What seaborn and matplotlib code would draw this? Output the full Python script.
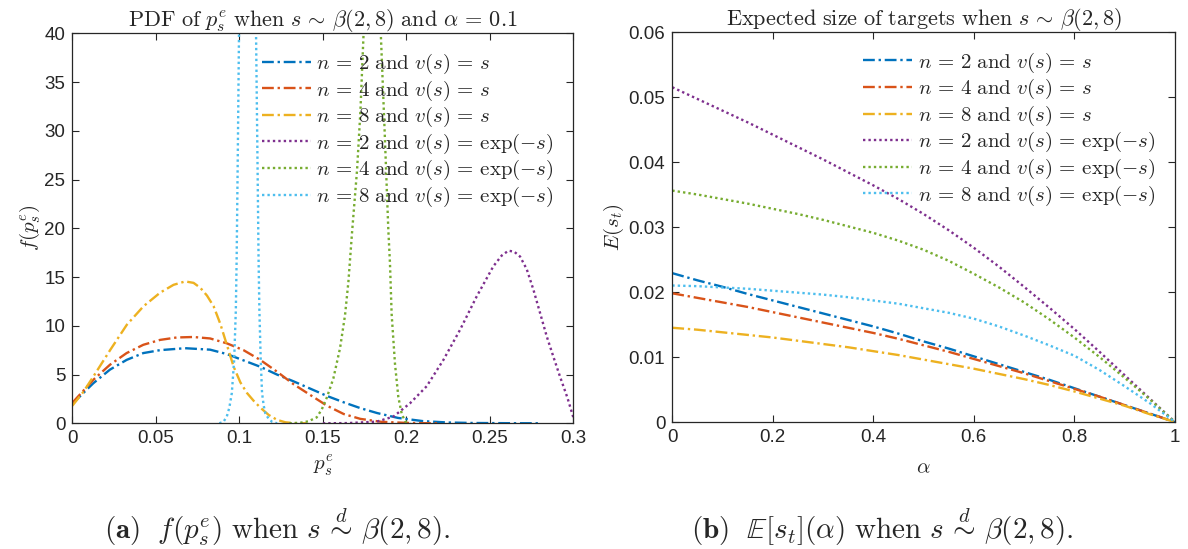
import matplotlib
matplotlib.use("Agg")
import matplotlib.pyplot as plt
import pandas as pd
import seaborn as sns

# ---------------- left panel: PDF of p_s^e, alpha = 0.1 ----------------
pdf_n2_lin_x = [0, 0.0125, 0.0225, 0.0325, 0.0425, 0.0525, 0.0675, 0.0825, 0.0925, 0.1025, 0.1125,
                0.1225, 0.1325, 0.1425, 0.1525, 0.1625, 0.1725, 0.1825, 0.195, 0.21, 0.225, 0.24, 0.26, 0.28]
pdf_n2_lin_y = [2.0, 4.1, 5.5, 6.5, 7.2, 7.5, 7.7, 7.55, 7.1, 6.45, 5.8,
                5.0, 4.3, 3.55, 2.8, 2.15, 1.55, 1.05, 0.55, 0.22, 0.08, 0.03, 0.01, 0.0]

pdf_n4_lin_x = [0, 0.0125, 0.0225, 0.0325, 0.0425, 0.0525, 0.0625, 0.0725, 0.0825, 0.0925, 0.1025,
                0.1125, 0.1225, 0.1325, 0.1425, 0.1525, 0.1625, 0.1725, 0.185, 0.2, 0.21, 0.22]
pdf_n4_lin_y = [2.1, 4.45, 6.0, 7.2, 8.05, 8.55, 8.8, 8.85, 8.7, 8.2, 7.5,
                6.5, 5.3, 4.0, 2.9, 1.8, 0.95, 0.45, 0.15, 0.04, 0.01, 0.0]

pdf_n8_lin_x = [0, 0.0065, 0.0126, 0.0226, 0.0326, 0.0426, 0.0526, 0.0606, 0.0676, 0.0726, 0.0766,
                0.0806, 0.0846, 0.0886, 0.0926, 0.0966, 0.1006, 0.1046, 0.1086, 0.1126, 0.1176,
                0.1226, 0.1276, 0.1326, 0.14]
pdf_n8_lin_y = [1.8, 3.2, 4.8, 7.5, 10.1, 12.0, 13.4, 14.2, 14.55, 14.4, 13.9,
                13.1, 12.0, 10.2, 8.0, 5.8, 4.2, 3.1, 2.3, 1.6, 0.85,
                0.35, 0.1, 0.02, 0.0]

pdf_n2_exp_x = [0.15, 0.165, 0.1823, 0.1922, 0.2022, 0.2122, 0.2222, 0.2322, 0.2421, 0.2521, 0.2571,
                0.2611, 0.2646, 0.2681, 0.2721, 0.2761, 0.2801, 0.2841, 0.2881, 0.292, 0.2965, 0.3]
pdf_n2_exp_y = [0, 0.02, 0.17, 0.68, 2.05, 3.8, 6.5, 9.6, 13.0, 16.1, 17.2,
                17.7, 17.6, 17.1, 15.8, 13.7, 11.3, 8.9, 6.8, 4.8, 2.6, 0.6]

pdf_n4_exp_x = [0.13, 0.1364, 0.1413, 0.1463, 0.1493, 0.1523, 0.1563, 0.1603, 0.1633, 0.1653, 0.1675,
                0.1705, 0.1725, 0.1744, 0.1796, 0.1847, 0.187, 0.1892, 0.1902, 0.1912, 0.1932,
                0.1952, 0.1972, 0.1992, 0.2022]
pdf_n4_exp_y = [0, 0.05, 0.2, 0.6, 1.4, 2.6, 4.6, 7.7, 11.1, 14.5, 19.6,
                26, 32, 40, 65, 40, 30, 19.9, 16.4, 11.2, 6.1,
                2.7, 1.0, 0.2, 0.0]

pdf_n8_exp_x = [0.088, 0.0905, 0.0925, 0.094, 0.0955, 0.0969, 0.0979, 0.0984, 0.0991, 0.0998, 0.1049,
                0.1100, 0.1108, 0.1115, 0.112, 0.1128, 0.1136, 0.1146, 0.1156, 0.1176, 0.1196, 0.1226]
pdf_n8_exp_y = [0, 0.15, 0.7, 1.6, 3.1, 6.5, 11.6, 17, 28, 40, 150,
                40, 28, 17, 11.6, 6.5, 3.1, 1.8, 1.0, 0.45, 0.15, 0.0]

# ---------------- right panel: expected target size vs alpha ----------------
alpha = [0, 0.05, 0.1, 0.15, 0.2, 0.25, 0.3, 0.35, 0.4, 0.45, 0.5,
         0.55, 0.6, 0.65, 0.7, 0.75, 0.8, 0.85, 0.9, 0.95, 1.0]
es_n2_lin = [0.0229, 0.0218, 0.0208, 0.0197, 0.0187, 0.0177, 0.0167, 0.0157, 0.0147, 0.0136, 0.0124,
             0.0113, 0.0101, 0.0089, 0.0077, 0.0065, 0.0052, 0.0039, 0.0026, 0.0013, 0]
es_n4_lin = [0.0198, 0.0191, 0.0184, 0.0177, 0.0169, 0.0161, 0.0153, 0.0145, 0.0137, 0.0128, 0.0118,
             0.0108, 0.0097, 0.0086, 0.0075, 0.0063, 0.0051, 0.0039, 0.0026, 0.0013, 0]
es_n8_lin = [0.0145, 0.0142, 0.0138, 0.0134, 0.0130, 0.0125, 0.0120, 0.0115, 0.0109, 0.0103, 0.0096,
             0.0089, 0.0082, 0.0074, 0.0066, 0.0057, 0.0047, 0.0036, 0.0025, 0.0012, 0]
es_n2_exp = [0.0515, 0.0497, 0.0479, 0.0461, 0.0442, 0.0423, 0.0404, 0.0384, 0.0364, 0.0343, 0.0320,
             0.0295, 0.0268, 0.0239, 0.0208, 0.0176, 0.0143, 0.0108, 0.0072, 0.0036, 0]
es_n4_exp = [0.0356, 0.0350, 0.0343, 0.0336, 0.0328, 0.0320, 0.0311, 0.0301, 0.0291, 0.0279, 0.0265,
             0.0248, 0.0228, 0.0207, 0.0184, 0.0158, 0.0130, 0.0100, 0.0068, 0.0035, 0]
es_n8_exp = [0.0210, 0.0209, 0.0207, 0.0205, 0.0202, 0.0199, 0.0196, 0.0192, 0.0187, 0.0182, 0.0175,
             0.0168, 0.0159, 0.0147, 0.0133, 0.0118, 0.0102, 0.0080, 0.0055, 0.0029, 0]

labels = [r"$n\,=\,2\ \mathrm{and}\ v(s)\,=\,s$",
          r"$n\,=\,4\ \mathrm{and}\ v(s)\,=\,s$",
          r"$n\,=\,8\ \mathrm{and}\ v(s)\,=\,s$",
          r"$n\,=\,2\ \mathrm{and}\ v(s)\,=\,\exp(-s)$",
          r"$n\,=\,4\ \mathrm{and}\ v(s)\,=\,\exp(-s)$",
          r"$n\,=\,8\ \mathrm{and}\ v(s)\,=\,\exp(-s)$"]
colors = ["#0072BD", "#D95319", "#EDB120", "#7E2F8E", "#77AC30", "#4DBEEE"]
dash_dot = (5, 1.6, 1, 1.6)
dotted = (1, 1.3)
dash_styles = [dash_dot, dash_dot, dash_dot, dotted, dotted, dotted]


def long_frame(xs, ys):
    rows = []
    for lbl, x, y in zip(labels, xs, ys):
        rows.append(pd.DataFrame({"x": x, "y": y, "series": lbl}))
    return pd.concat(rows, ignore_index=True)


df_pdf = long_frame([pdf_n2_lin_x, pdf_n4_lin_x, pdf_n8_lin_x, pdf_n2_exp_x, pdf_n4_exp_x, pdf_n8_exp_x],
                    [pdf_n2_lin_y, pdf_n4_lin_y, pdf_n8_lin_y, pdf_n2_exp_y, pdf_n4_exp_y, pdf_n8_exp_y])
df_es = long_frame([alpha] * 6, [es_n2_lin, es_n4_lin, es_n8_lin, es_n2_exp, es_n4_exp, es_n8_exp])

sns.set_theme(style="ticks")
plt.rcParams["font.family"] = ["Liberation Sans", "DejaVu Sans"]
plt.rcParams["mathtext.fontset"] = "cm"
edge = "#262626"

fig = plt.figure(figsize=(11.88, 5.49), dpi=100)
ax1 = fig.add_axes([0.0609, 0.229, 0.4217, 0.7104])
ax2 = fig.add_axes([0.5659, 0.2313, 0.4231, 0.7104])

palette = dict(zip(labels, colors))
dashes = dict(zip(labels, dash_styles))

for ax, df in [(ax1, df_pdf), (ax2, df_es)]:
    sns.lineplot(data=df, x="x", y="y", hue="series", style="series", hue_order=labels,
                 style_order=labels, palette=palette, dashes=dashes, linewidth=1.7,
                 estimator=None, ax=ax)

# axes limits / ticks
ax1.set_xlim(0, 0.3)
ax1.set_ylim(0, 40)
ax1.set_xticks([0, 0.05, 0.1, 0.15, 0.2, 0.25, 0.3], ["0", "0.05", "0.1", "0.15", "0.2", "0.25", "0.3"])
ax1.set_yticks(range(0, 45, 5))
ax2.set_xlim(0, 1)
ax2.set_ylim(0, 0.06)
ax2.set_xticks([0, 0.2, 0.4, 0.6, 0.8, 1], ["0", "0.2", "0.4", "0.6", "0.8", "1"])
ax2.set_yticks([0, 0.01, 0.02, 0.03, 0.04, 0.05, 0.06],
               ["0", "0.01", "0.02", "0.03", "0.04", "0.05", "0.06"])

for ax in (ax1, ax2):
    for sp in ax.spines.values():
        sp.set_visible(True)
        sp.set_color(edge)
        sp.set_linewidth(0.9)
    ax.tick_params(direction="in", length=5, width=0.8, color=edge, labelcolor=edge,
                   labelsize=13.5, top=True, right=True, pad=5)
    ax.legend(loc="upper right", bbox_to_anchor=(0.99, 0.99), frameon=False, fontsize=15,
              handlelength=2.35, handletextpad=0.25, labelspacing=0.12, borderaxespad=0.3)

ax1.set_title(r"$\mathrm{PDF\ of\ }p_s^e\mathrm{\ when\ }s\,\sim\,\beta(2,8)\mathrm{\ and\ }\alpha\,=\,0.1$",
              fontsize=16, pad=5)
ax2.set_title(r"$\mathrm{Expected\ size\ of\ targets\ when\ }s\,\sim\,\beta(2,8)$", fontsize=16, pad=5)
ax1.set_xlabel(r"$p_s^e$", fontsize=15, labelpad=4)
ax1.set_ylabel(r"$f(p_s^e)$", fontsize=15, labelpad=2)
ax2.set_xlabel(r"$\alpha$", fontsize=15, labelpad=9)
ax2.set_ylabel(r"$E(s_t)$", fontsize=15, labelpad=2)

# sub-figure captions
fig.text(277 / 1188, 1 - 527 / 549,
         r"$\mathbf{(a)}\ \ f(p_s^e)\mathrm{\ when\ }s\,\overset{d}{\sim}\,\beta(2,8).$",
         ha="center", va="center", fontsize=21)
fig.text(882 / 1188, 1 - 527 / 549,
         r"$\mathbf{(b)}\ \ \mathbb{E}[s_t](\alpha)\mathrm{\ when\ }s\,\overset{d}{\sim}\,\beta(2,8).$",
         ha="center", va="center", fontsize=21)

fig.savefig("out.png", dpi=100, facecolor="white")
